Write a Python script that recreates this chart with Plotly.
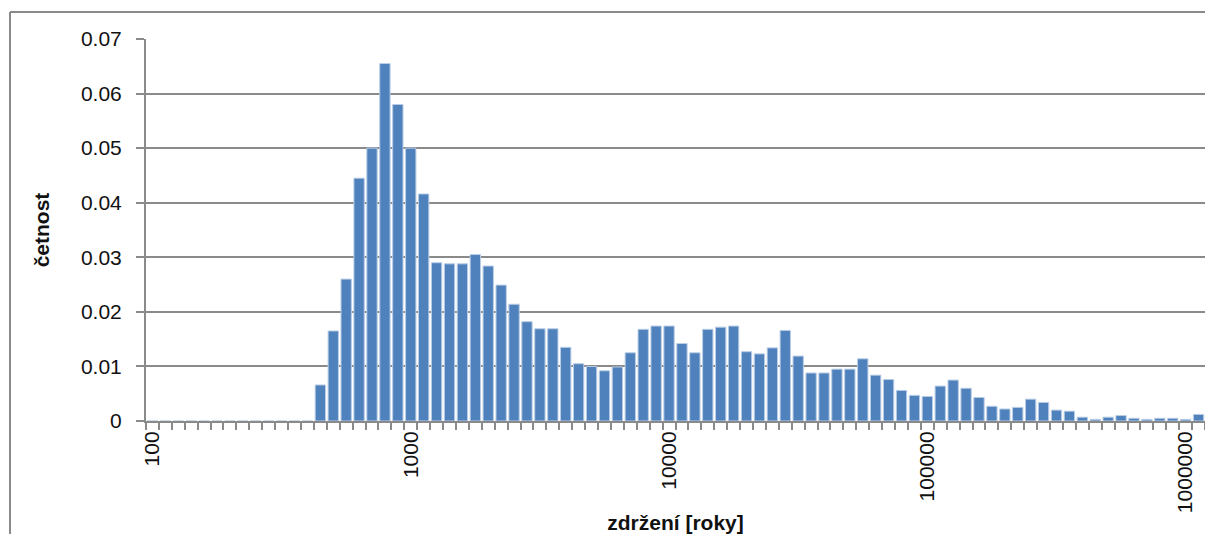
import plotly.graph_objects as go

# Bin lower bounds (20 bins per decade, 100 .. ~1.12e6)
categories = [
    "100", "112", "126", "141", "158", "178", "200", "224", "251", "282",
    "316", "355", "398", "447", "501", "562", "631", "708", "794", "891",
    "1000", "1122", "1259", "1413", "1585", "1778", "1995", "2239", "2512", "2818",
    "3162", "3548", "3981", "4467", "5012", "5623", "6310", "7079", "7943", "8913",
    "10000", "11220", "12589", "14125", "15849", "17783", "19953", "22387", "25119", "28184",
    "31623", "35481", "39811", "44668", "50119", "56234", "63096", "70795", "79433", "89125",
    "100000", "112202", "125893", "141254", "158489", "177828", "199526", "223872", "251189", "281838",
    "316228", "354813", "398107", "446684", "501187", "562341", "630957", "707946", "794328", "891251",
    "1000000", "1122018",
]

frequency = [
    0, 0, 0, 0, 0, 0, 0, 0, 0, 0,
    0, 0, 0, 0.0066, 0.0165, 0.0260, 0.0445, 0.0500, 0.0655, 0.0580,
    0.0500, 0.0416, 0.0290, 0.0288, 0.0288, 0.0305, 0.0284, 0.0249, 0.0214, 0.0182,
    0.0169, 0.0169, 0.0135, 0.0105, 0.0100, 0.0092, 0.0099, 0.0125, 0.0168, 0.0174,
    0.0174, 0.0142, 0.0125, 0.0168, 0.0172, 0.0174, 0.0127, 0.0123, 0.0134, 0.0166,
    0.0119, 0.0088, 0.0088, 0.0095, 0.0095, 0.0114, 0.0084, 0.0076, 0.0056, 0.0047,
    0.0045, 0.0064, 0.0075, 0.0060, 0.0043, 0.0027, 0.0022, 0.0025, 0.0040, 0.0034,
    0.0020, 0.0018, 0.0007, 0.0003, 0.0007, 0.0010, 0.0005, 0.0003, 0.0005, 0.0005,
    0.0003, 0.0012,
]

labelled = ["100", "1000", "10000", "100000", "1000000"]
tick_text = [c if c in labelled else "" for c in categories]

y_ticks = [0, 0.01, 0.02, 0.03, 0.04, 0.05, 0.06, 0.07]
y_text = ["0", "0.01", "0.02", "0.03", "0.04", "0.05", "0.06", "0.07"]

FONT = "Liberation Sans, Arial, sans-serif"
GRAY = "#8a8a8a"

FIG_W, FIG_H = 1205, 534
M_L, M_T, M_B = 146, 39, 113
plot_w = FIG_W - M_L
plot_h = FIG_H - M_T - M_B

border_x = (10 - M_L) / plot_w
border_y = 1 + (M_T - 12) / plot_h

fig = go.Figure(
    go.Bar(
        x=categories,
        y=frequency,
        marker=dict(color="#4F81BD", line=dict(color="#B9CDE5", width=1)),
        hoverinfo="x+y",
    )
)

fig.update_layout(
    width=FIG_W,
    height=FIG_H,
    margin=dict(l=M_L, r=0, t=M_T, b=M_B),
    paper_bgcolor="white",
    plot_bgcolor="white",
    bargap=0.2,
    showlegend=False,
    font=dict(family=FONT, size=21, color="#111111"),
    xaxis=dict(
        type="category",
        tickmode="array",
        tickvals=categories,
        ticktext=tick_text,
        tickangle=-90,
        tickson="boundaries",
        ticks="outside",
        ticklen=7,
        tickwidth=2,
        tickcolor=GRAY,
        showline=True,
        linecolor=GRAY,
        linewidth=2,
        showgrid=False,
        range=[-0.5, len(categories) - 0.5],
        tickfont=dict(family=FONT, size=21),
        title=dict(text="<b>zdržení [roky]</b>", font=dict(family=FONT, size=21), standoff=5),
    ),
    yaxis=dict(
        range=[0, 0.07],
        tickmode="array",
        tickvals=y_ticks,
        ticktext=y_text,
        ticks="outside",
        ticklen=8,
        tickwidth=2,
        tickcolor=GRAY,
        showline=True,
        linecolor=GRAY,
        linewidth=2,
        showgrid=True,
        gridcolor=GRAY,
        gridwidth=2,
        zeroline=False,
        ticklabelstandoff=10,
        tickfont=dict(family=FONT, size=21),
        title=dict(text="<b>četnost</b>", font=dict(family=FONT, size=21), standoff=26),
    ),
    shapes=[
        # outer chart border (only left and top edges are inside the picture)
        dict(type="line", xref="paper", yref="paper",
             x0=border_x, x1=border_x, y0=-0.5, y1=border_y,
             line=dict(color=GRAY, width=2), layer="below"),
        dict(type="line", xref="paper", yref="paper",
             x0=border_x, x1=1.05, y0=border_y, y1=border_y,
             line=dict(color=GRAY, width=2), layer="below"),
    ],
)

fig.write_html(
    "out.html",
    config={"displayModeBar": False},
    post_script=(
        "document.documentElement.style.overflow='hidden';"
        "document.body.style.overflow='hidden';"
        "document.body.style.margin='0';"
    ),
)
